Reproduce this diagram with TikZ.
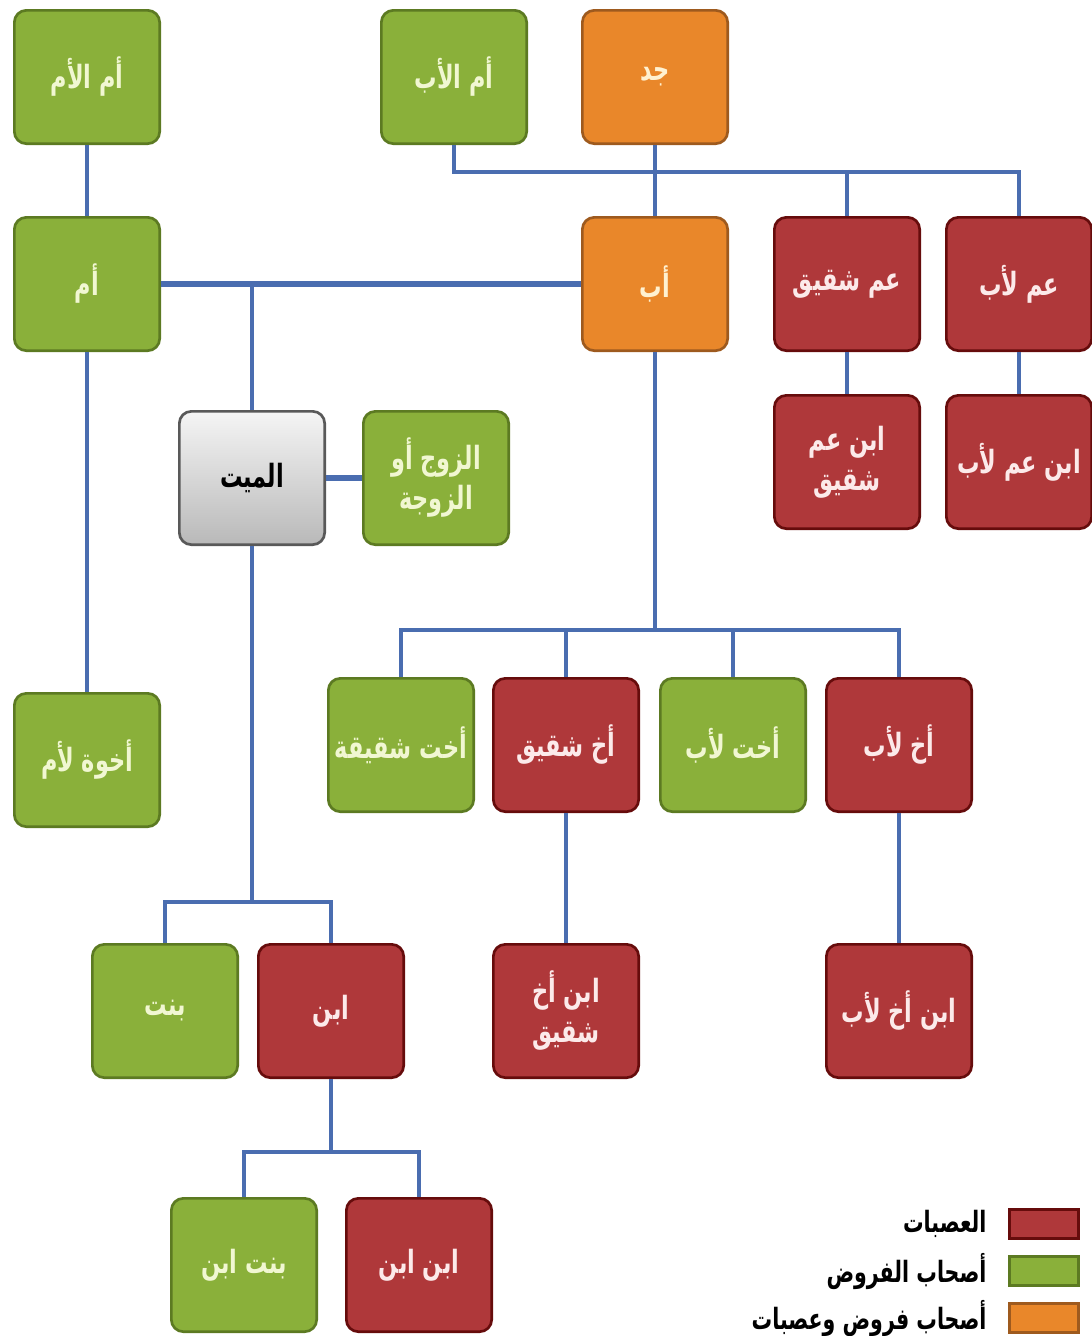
\documentclass[tikz,border=0pt]{standalone}
\usepackage{fontspec}
\usepackage{tikz}
\usetikzlibrary{positioning,calc}
\TeXXeTstate=1
\newfontfamily\arabicfont[Script=Arabic,FakeStretch=0.7]{DejaVu Sans}
\definecolor{fardgreen}{HTML}{8AB03A}
\definecolor{fardedge}{HTML}{5C7A22}
\definecolor{fardtext}{HTML}{F1F7D2}
\definecolor{asabared}{HTML}{AF383A}
\definecolor{asabaedge}{HTML}{660C0C}
\definecolor{asabatext}{HTML}{FCEAEA}
\definecolor{mixorange}{HTML}{E9872A}
\definecolor{mixedge}{HTML}{9E5A1E}
\definecolor{mixtext}{HTML}{FFF1D0}
\definecolor{linkblue}{HTML}{4A6DB0}
\newcommand{\artxt}[1]{{\arabicfont\bfseries\beginR #1\endR}}

\begin{document}
\begin{tikzpicture}[x=0.75pt,y=-0.75pt,
  box/.style={rounded corners=9pt,minimum width=109pt,minimum height=100pt,line width=2pt,
    inner sep=2pt,align=center,font=\fontsize{24}{30}\selectfont},
  fard/.style={box,fill=fardgreen,draw=fardedge,text=fardtext},
  asaba/.style={box,fill=asabared,draw=asabaedge,text=asabatext},
  mixed/.style={box,fill=mixorange,draw=mixedge,text=mixtext},
  dead/.style={box,top color=gray!8,bottom color=gray!55,draw=black!65,text=black},
  key/.style={minimum width=52pt,minimum height=22pt,line width=2pt},
  keytext/.style={left=16pt of #1,font=\fontsize{22}{26}\selectfont,inner sep=0pt},
  link/.style={draw=linkblue,line width=2.5pt},
  thicklink/.style={draw=linkblue,line width=4.5pt}]
\useasboundingbox (0,0) rectangle (1092,1336);

\node[fard] (momsmom) at (87,77) {\artxt{أم الأم}};
\node[fard] (dadsmom) at (454,77) {\artxt{أم الأب}};
\node[mixed] (jadd) at (655,77) {\artxt{جد}};
\node[fard] (umm) at (87,284) {\artxt{أم}};
\node[mixed] (abb) at (655,284) {\artxt{أب}};
\node[asaba] (uncleS) at (847,284) {\artxt{عم شقيق}};
\node[asaba] (uncleF) at (1019,284) {\artxt{عم لأب}};
\node[asaba] (cousinS) at (847,462) {\artxt{ابن عم}\\\artxt{شقيق}};
\node[asaba] (cousinF) at (1019,462) {\artxt{ابن عم لأب}};
\node[dead] (mayyit) at (252,478) {\artxt{الميت}};
\node[fard] (spouse) at (436,478) {\artxt{الزوج أو}\\\artxt{الزوجة}};
\node[fard] (halfsibM) at (87,760) {\artxt{أخوة لأم}};
\node[fard] (sisterS) at (401,745) {\artxt{أخت شقيقة}};
\node[asaba] (brotherS) at (566,745) {\artxt{أخ شقيق}};
\node[fard] (sisterF) at (733,745) {\artxt{أخت لأب}};
\node[asaba] (brotherF) at (899,745) {\artxt{أخ لأب}};
\node[fard] (bint) at (165,1011) {\artxt{بنت}};
\node[asaba] (ibn) at (331,1011) {\artxt{ابن}};
\node[asaba] (nephewS) at (566,1011) {\artxt{ابن أخ}\\\artxt{شقيق}};
\node[asaba] (nephewF) at (899,1011) {\artxt{ابن أخ لأب}};
\node[fard] (bintibn) at (244,1265) {\artxt{بنت ابن}};
\node[asaba] (ibnibn) at (419,1265) {\artxt{ابن ابن}};

\coordinate (grandBus) at (655,172);
\coordinate (sibBus) at (655,630);
\coordinate (childBus) at (252,902);
\coordinate (grandchildBus) at (331,1152);

\draw[link] (dadsmom) |- (grandBus) -| (uncleF);
\draw[link] (grandBus) -| (uncleS);
\draw[link] (jadd) -- (abb);
\draw[link] (momsmom) -- (umm);
\draw[thicklink] (umm) -- (abb);
\draw[link] (mayyit.north) -- (mayyit.north |- umm.east);
\draw[thicklink] (mayyit) -- (spouse);
\draw[link] (uncleS) -- (cousinS);
\draw[link] (uncleF) -- (cousinF);
\draw[link] (umm) -- (halfsibM);
\draw[link] (abb) -- (sibBus);
\draw[link] (sisterS) |- (sibBus) -| (brotherF);
\foreach \n in {brotherS,sisterF} {\draw[link] (\n) -- (\n |- sibBus);}
\draw[link] (brotherS) -- (nephewS);
\draw[link] (brotherF) -- (nephewF);
\draw[link] (mayyit) -- (childBus);
\draw[link] (bint) |- (childBus) -| (ibn);
\draw[link] (ibn) -- (grandchildBus);
\draw[link] (bintibn) |- (grandchildBus) -| (ibnibn);

\node[key,fill=asabared,draw=asabaedge] (keyA) at (1044,1224) {};
\node[key,fill=fardgreen,draw=fardedge] (keyF) at (1044,1271) {};
\node[key,fill=mixorange,draw=mixedge] (keyM) at (1044,1318) {};
\node[keytext=keyA] (txtA) {\artxt{العصبات}};
\node[keytext=keyF] (txtF) {\artxt{أصحاب الفروض}};
\node[keytext=keyM] (txtM) {\artxt{أصحاب فروض وعصبات}};
\end{tikzpicture}
\end{document}
